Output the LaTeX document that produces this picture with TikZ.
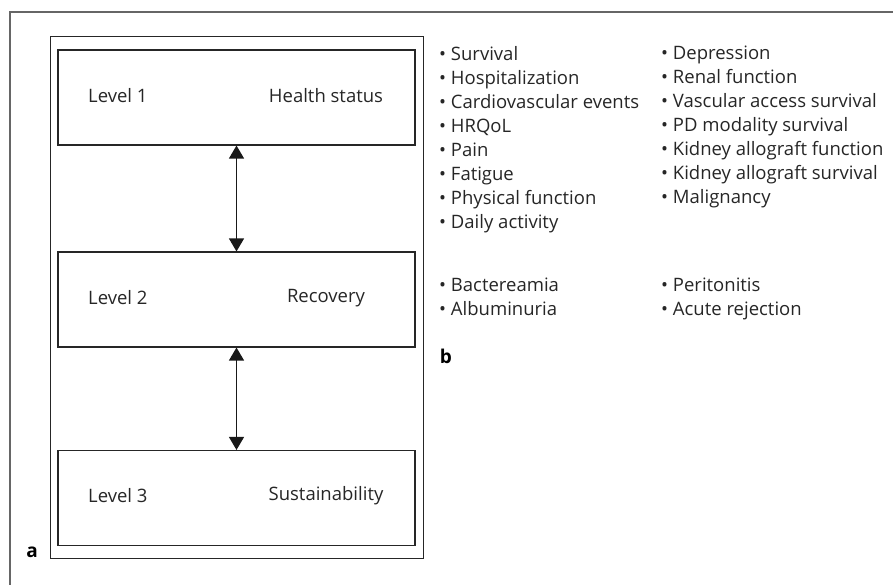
\documentclass[tikz,border=0pt]{standalone}
\usepackage{fontspec}
\setmainfont{Open Sans}
\usetikzlibrary{arrows.meta}
\usetikzlibrary{positioning}
\tikzset{
levelbox/.style={ % the three level boxes
draw=black!85,
line width=1.1pt,
minimum width=357pt,
minimum height=95pt,
inner sep=0pt},
lbl/.style={ % text inside the boxes
font=\fontsize{18.5}{20}\selectfont,
text=black!85,
inner sep=0pt},
itemlist/.style={ % bullet columns
font=\fontsize{18.5}{24}\selectfont,
text=black!85,
align=left,
anchor=north west,
inner sep=0pt},
panel/.style={font=\fontsize{19}{20}\selectfont\bfseries, inner sep=0pt},
link/.style={ % double headed arrows
draw=black!90,
line width=1.2pt,
{Triangle[width=15pt,length=13pt]}-{Triangle[width=15pt,length=13pt]}}}

\begin{document}
\begin{tikzpicture}[x=1pt, y=-1pt]
\useasboundingbox (0,0) rectangle (893,585);
% outer frame
\draw[black!60, line width=1.3pt] (893,12) -- (10,12) -- (10,585);
% panel a
\draw[black!85, line width=1pt] (50,36.7) rectangle (423,558);
\node[levelbox] (L1) at (236.5,97.5) {};
\node[levelbox] (L2) at (236.5,299.5) {};
\node[levelbox] (L3) at (236.5,498) {};
\node[lbl, anchor=west] (n1) at (88,96) {Level 1};
\node[lbl] (h1) at (326,96) {Health status};
\node[lbl, anchor=west] (n2) at (88,298) {Level 2};
\node[lbl] (h2) at (326,298) {Recovery};
\node[lbl, anchor=west] (n3) at (88,496) {Level 3};
\node[lbl] (h3) at (326,496) {Sustainability};
\draw[link] (L1) -- (L2);
\draw[link] (L2) -- (L3);
\node[panel] (a) at (32,552) {a};
% panel b
\node[itemlist] (c1) at (439,46) {\textbullet\ Survival\\ \textbullet\ Hospitalization\\
\textbullet\ Cardiovascular events\\ \textbullet\ HRQoL\\ \textbullet\ Pain\\
\textbullet\ Fatigue\\ \textbullet\ Physical function\\ \textbullet\ Daily activity};
\node[itemlist] (c2) at (661,46) {\textbullet\ Depression\\ \textbullet\ Renal function\\
\textbullet\ Vascular access survival\\ \textbullet\ PD modality survival\\
\textbullet\ Kidney allograft function\\ \textbullet\ Kidney allograft survival\\
\textbullet\ Malignancy};
\node[itemlist] (c3) at (439,278) {\textbullet\ Bactereamia\\ \textbullet\ Albuminuria};
\node[itemlist] (c4) at (661,278) {\textbullet\ Peritonitis\\ \textbullet\ Acute rejection};
\node[panel] (b) at (446,356) {b};
\end{tikzpicture}
\end{document}
